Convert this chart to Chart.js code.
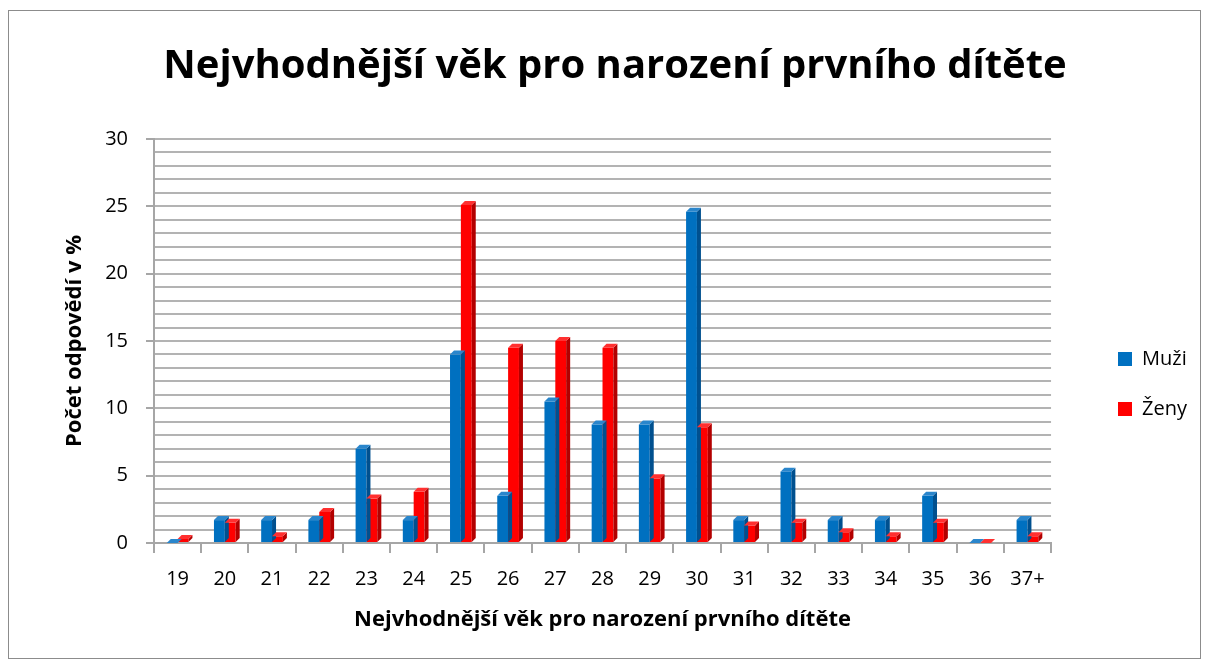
<!DOCTYPE html>
<html>
<head>
<meta charset="utf-8">
<script src="https://cdn.jsdelivr.net/npm/chart.js@4.4.1/dist/chart.umd.min.js"></script>
<style>
  html, body { margin: 0; padding: 0; background: #fff; }
  #wrap { position: absolute; left: 0; top: 0; width: 1210px; height: 666px; }
  #frame { position: absolute; left: 8px; top: 10px; width: 1191px; height: 647px; border: 1px solid #8c8c8c; pointer-events: none; }
</style>
</head>
<body>
<div id="wrap"><canvas id="chart"></canvas></div>
<div id="frame"></div>
<script>
// ages (categories)
const ages = ["19", "20", "21", "22", "23", "24", "25", "26", "27", "28", "29", "30", "31", "32", "33", "34", "35", "36", "37+"];
// share of answers in %
const muzi = [0, 1.7, 1.7, 1.7, 7.0, 1.7, 14.0, 3.5, 10.5, 8.8, 8.8, 24.6, 1.7, 5.3, 1.7, 1.7, 3.5, 0, 1.7];
const zeny = [0.3, 1.5, 0.5, 2.3, 3.3, 3.8, 25.1, 14.5, 15.0, 14.5, 4.8, 8.6, 1.3, 1.5, 0.8, 0.5, 1.5, 0, 0.5];
const yTicks = [0, 5, 10, 15, 20, 25, 30];

const font = "'Open Sans', 'Liberation Sans', sans-serif";

// fake 3D side and top faces on each bar
const bar3d = {
  id: 'bar3d',
  afterDatasetsDraw(chart) {
    const ctx = chart.ctx;
    const d = 4;
    const sides = ['#00508f', '#b30000'];
    const tops = ['#2a86cc', '#ff3030'];
    chart.data.datasets.forEach((ds, i) => {
      chart.getDatasetMeta(i).data.forEach(b => {
        const p = b.getProps(['x', 'y', 'base', 'width'], true);
        const l = p.x - p.width / 2, r = p.x + p.width / 2;
        ctx.save();
        ctx.fillStyle = sides[i];
        ctx.beginPath();
        ctx.moveTo(r, p.y);
        ctx.lineTo(r + d, p.y - d);
        ctx.lineTo(r + d, p.base - d);
        ctx.lineTo(r, p.base);
        ctx.closePath();
        ctx.fill();
        ctx.fillStyle = tops[i];
        ctx.beginPath();
        ctx.moveTo(l, p.y);
        ctx.lineTo(l + d, p.y - d);
        ctx.lineTo(r + d, p.y - d);
        ctx.lineTo(r, p.y);
        ctx.closePath();
        ctx.fill();
        ctx.restore();
      });
    });
  }
};

// move legend and title boxes to where the original has them
const boxPos = {
  id: 'boxPos',
  afterLayout(chart) {
    const lg = chart.legend;
    const w = lg.right - lg.left;
    lg.left = 1088;
    lg.right = lg.left + w;
    lg.top += 66;
    lg.bottom += 66;
    const t = chart.titleBlock;
    t.left = 20;
    t.right = 1210;
  }
};

new Chart(document.getElementById('chart'), {
  type: 'bar',
  data: {
    labels: ages,
    datasets: [
      { label: 'Muži', data: muzi, backgroundColor: '#0070c0' },
      { label: 'Ženy', data: zeny, backgroundColor: '#ff0000' }
    ]
  },
  options: {
    responsive: true,
    maintainAspectRatio: false,
    animation: false,
    layout: { padding: { left: 20, right: 50, top: 0, bottom: 30 } },
    datasets: { bar: { barPercentage: 1, categoryPercentage: 0.46 } },
    plugins: {
      title: {
        display: true,
        text: 'Nejvhodnější věk pro narození prvního dítěte',
        color: '#000',
        font: { family: font, size: 40, weight: 'bold' },
        padding: { top: 43, bottom: 48 }
      },
      legend: {
        position: 'right',
        labels: {
          color: '#000',
          font: { family: font, size: 20 },
          boxWidth: 14,
          boxHeight: 14,
          padding: 30
        }
      },
      tooltip: { enabled: false }
    },
    scales: {
      x: {
        afterFit(s) { s.height = 93; },
        grid: { offset: true, drawOnChartArea: false, color: '#a6a6a6', lineWidth: 2, tickLength: 10 },
        border: { color: '#a6a6a6', width: 2 },
        ticks: { color: '#000', font: { family: font, size: 20 }, padding: 14, maxRotation: 0, autoSkip: false },
        title: {
          display: true,
          text: 'Nejvhodnější věk pro narození prvního dítěte',
          color: '#000',
          font: { family: font, size: 22, weight: 'bold' },
          padding: { top: 0, bottom: 3 }
        }
      },
      y: {
        min: 0,
        max: 30,
        afterFit(s) { s.width = 134; },
        afterBuildTicks(s) {
          s.ticks = [];
          for (let v = 0; v <= 30; v++) s.ticks.push({ value: v });
        },
        grid: {
          color: '#b3b3b3',
          lineWidth: 2,
          tickLength: 8,
          tickColor: c => (yTicks.includes(c.tick.value) ? '#a6a6a6' : 'rgba(0,0,0,0)')
        },
        border: { color: '#a6a6a6', width: 2 },
        ticks: {
          color: '#000',
          font: { family: font, size: 20 },
          padding: 18,
          autoSkip: false,
          callback: v => (yTicks.includes(v) ? String(v) : '')
        },
        title: {
          display: true,
          text: 'Počet odpovědí v %',
          color: '#000',
          font: { family: font, size: 22, weight: 'bold' },
          padding: { top: 42, bottom: 0 }
        }
      }
    }
  },
  plugins: [bar3d, boxPos]
});
</script>
</body>
</html>
